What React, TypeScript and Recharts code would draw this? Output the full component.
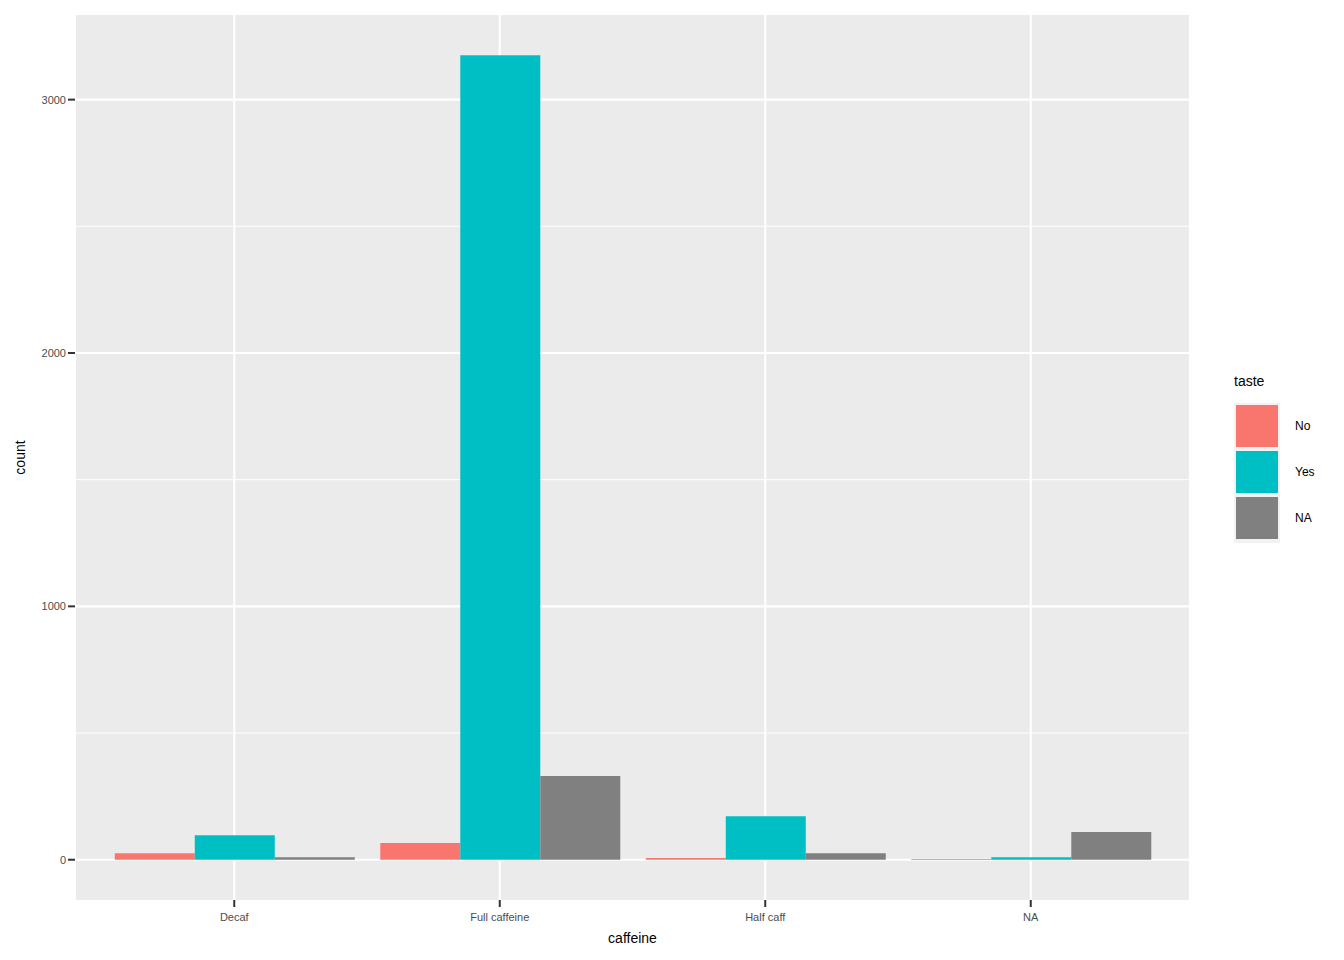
import React from 'react';
import { BarChart, Bar, XAxis, YAxis, CartesianGrid } from 'recharts';

// caffeine categories on the x axis
const categories = ['Decaf', 'Full caffeine', 'Half caff', 'NA'];
// counts per taste group
const noCounts = [26, 66, 7, 3];
const yesCounts = [97, 3175, 172, 10];
const naCounts = [10, 330, 26, 109];

const yTicks = [0, 1000, 2000, 3000];
const yMinor = [500, 1500, 2500];

const tasteKeys = ['No', 'Yes', 'NA'];
const tasteColors = ['#F8766D', '#00BFC4', '#808080'];

const data = categories.map((c, i) => ({
  caffeine: c,
  No: noCounts[i],
  Yes: yesCounts[i],
  NA: naCounts[i],
}));

const FONT = '"Liberation Sans", Arial, sans-serif';

const TasteLegend = () => (
  <div style={{ position: 'absolute', left: 1234, top: 373, fontFamily: FONT }}>
    <div style={{ fontSize: 14, lineHeight: '16px', color: '#000', height: 30 }}>taste</div>
    <div style={{ background: '#F2F2F2', width: 46, padding: '2px 0 0 0' }}>
      {tasteKeys.map((k, i) => (
        <div key={k} style={{ position: 'relative', height: 46 }}>
          <div
            style={{
              position: 'absolute',
              left: 2,
              top: 0,
              width: 42,
              height: 42,
              background: tasteColors[i],
            }}
          />
          <div
            style={{
              position: 'absolute',
              left: 61,
              top: 14,
              fontSize: 12,
              lineHeight: '14px',
              color: '#000',
              whiteSpace: 'nowrap',
            }}
          >
            {k}
          </div>
        </div>
      ))}
    </div>
  </div>
);

export default function App() {
  return (
    <div style={{ position: 'absolute', left: 0, top: 0, width: 1344, height: 960, background: '#fff' }}>
      <BarChart
        width={1344}
        height={960}
        data={data}
        margin={{ top: 15, right: 154, bottom: 0, left: 0 }}
        barCategoryGap="5%"
        barGap={0}
      >
        <CartesianGrid
          vertical={false}
          horizontalValues={yMinor}
          stroke="#FFFFFF"
          strokeWidth={1}
          fill="#EBEBEB"
          fillOpacity={1}
        />
        <CartesianGrid
          horizontalValues={yTicks}
          stroke="#FFFFFF"
          strokeWidth={2.1}
        />
        <XAxis
          dataKey="caffeine"
          height={60}
          padding={{ left: 26.5, right: 26.5 }}
          axisLine={false}
          tickLine={{ stroke: '#333333', strokeWidth: 2 }}
          tickSize={7}
          tick={{ fill: '#4D4D4D', fontSize: 11, fontFamily: FONT, dy: 4 }}
          label={{ value: 'caffeine', position: 'insideBottom', offset: 17, fill: '#000', fontSize: 14, fontFamily: FONT }}
        />
        <YAxis
          width={75}
          domain={[-159, 3334]}
          allowDataOverflow
          ticks={yTicks}
          interval={0}
          axisLine={false}
          tickLine={{ stroke: '#333333', strokeWidth: 2 }}
          tickSize={7}
          tick={{ fill: '#4D4D4D', fontSize: 11, fontFamily: FONT }}
          label={{
            value: 'count',
            angle: -90,
            position: 'insideLeft',
            offset: 20,
            textAnchor: 'middle',
            fill: '#000',
            fontSize: 14,
            fontFamily: FONT,
          }}
        />
        {tasteKeys.map((k, i) => (
          <Bar key={k} dataKey={k} fill={tasteColors[i]} isAnimationActive={false} />
        ))}
      </BarChart>
      <TasteLegend />
    </div>
  );
}
